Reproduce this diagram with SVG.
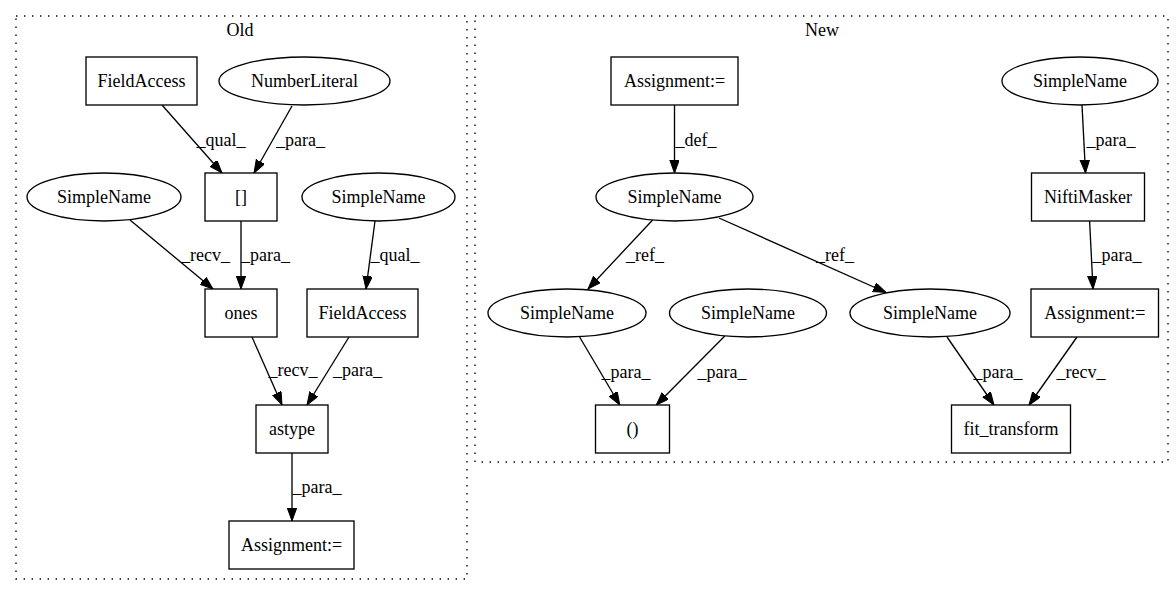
<svg xmlns="http://www.w3.org/2000/svg" width="1176" height="596" viewBox="0 0 1176 596">
<style>
text{font-family:"Liberation Serif","Times New Roman",serif;font-size:18px;fill:#000;text-anchor:middle}
.n rect,.n ellipse{fill:#fff;stroke:#000;stroke-width:1.33}
.cl{fill:none;stroke:#000;stroke-width:1.33;stroke-dasharray:1.4,6.6}
.e line{stroke:#000;stroke-width:1.33;marker-end:url(#ah)}
</style>
<defs>
<marker id="ah" markerUnits="userSpaceOnUse" markerWidth="14" markerHeight="11" refX="13" refY="4.7" orient="auto">
<path d="M0,0 L13,4.7 L0,9.4 z" fill="#000" stroke="#000" stroke-width="1"/>
</marker>
</defs>
<rect width="1176" height="596" fill="#fff"/>
<g id="cluster_old">
<rect class="cl" x="16" y="16" width="451" height="563"/>
<text x="240" y="36">Old</text>
</g>
<g id="cluster_new">
<rect class="cl" x="475" y="16" width="693" height="446"/>
<text x="822" y="36">New</text>
</g>
<g id="edges" class="e">
<line x1="162" y1="105" x2="222" y2="173"/>
<line x1="292" y1="106" x2="254" y2="173"/>
<line x1="130" y1="220" x2="213" y2="289"/>
<line x1="241" y1="221" x2="241" y2="289"/>
<line x1="375" y1="221" x2="366" y2="289"/>
<line x1="252" y1="337" x2="282" y2="405"/>
<line x1="349" y1="337" x2="307" y2="405"/>
<line x1="292" y1="453" x2="292" y2="521"/>
<line x1="674.5" y1="105" x2="674.5" y2="173"/>
<line x1="1082" y1="105" x2="1085.5" y2="173"/>
<line x1="652.6" y1="220" x2="588" y2="289"/>
<line x1="719" y1="218" x2="886" y2="292.5"/>
<line x1="1089.6" y1="221" x2="1093" y2="289"/>
<line x1="579.6" y1="337" x2="619.8" y2="405"/>
<line x1="724.8" y1="336" x2="656.3" y2="405"/>
<line x1="947" y1="337" x2="994" y2="405"/>
<line x1="1077" y1="337" x2="1029" y2="405"/>
<text x="221" y="146">_qual_</text>
<text x="300.5" y="146">_para_</text>
<text x="205.5" y="261">_recv_</text>
<text x="265.5" y="261">_para_</text>
<text x="395" y="261">_qual_</text>
<text x="293" y="376">_recv_</text>
<text x="357.5" y="376">_para_</text>
<text x="317" y="493">_para_</text>
<text x="696" y="146">_def_</text>
<text x="1111" y="146">_para_</text>
<text x="645" y="261">_ref_</text>
<text x="835" y="261">_ref_</text>
<text x="1117" y="261">_para_</text>
<text x="626" y="378">_para_</text>
<text x="722" y="378">_para_</text>
<text x="998" y="378">_para_</text>
<text x="1081" y="378">_recv_</text>
</g>
<g id="old_fieldaccess1" class="n"><rect x="86" y="57" width="111" height="48"/><text x="141.5" y="87">FieldAccess</text></g>
<g id="old_numberliteral" class="n"><ellipse cx="304.5" cy="81" rx="85.5" ry="24"/><text x="304.5" y="87">NumberLiteral</text></g>
<g id="old_index" class="n"><rect x="205" y="173" width="72" height="48"/><text x="241" y="203">[]</text></g>
<g id="old_simplename1" class="n"><ellipse cx="104" cy="197" rx="77" ry="24"/><text x="104" y="203">SimpleName</text></g>
<g id="old_simplename2" class="n"><ellipse cx="378.5" cy="197" rx="76.5" ry="24"/><text x="378.5" y="203">SimpleName</text></g>
<g id="old_ones" class="n"><rect x="205" y="289" width="72" height="48"/><text x="241" y="319">ones</text></g>
<g id="old_fieldaccess2" class="n"><rect x="307" y="289" width="111" height="48"/><text x="362.5" y="319">FieldAccess</text></g>
<g id="old_astype" class="n"><rect x="256" y="405" width="72" height="48"/><text x="292" y="435">astype</text></g>
<g id="old_assignment" class="n"><rect x="229" y="521" width="125" height="48"/><text x="291.5" y="551">Assignment:=</text></g>
<g id="new_assignment1" class="n"><rect x="611" y="57" width="127" height="48"/><text x="674.5" y="87">Assignment:=</text></g>
<g id="new_simplename_top" class="n"><ellipse cx="1080" cy="81" rx="78" ry="24"/><text x="1080" y="87">SimpleName</text></g>
<g id="new_simplename_mid" class="n"><ellipse cx="674.5" cy="197" rx="78.5" ry="24"/><text x="674.5" y="203">SimpleName</text></g>
<g id="new_niftimasker" class="n"><rect x="1031.5" y="173" width="113" height="48"/><text x="1088" y="203">NiftiMasker</text></g>
<g id="new_simplename_a" class="n"><ellipse cx="567" cy="313" rx="79" ry="24"/><text x="567" y="319">SimpleName</text></g>
<g id="new_simplename_b" class="n"><ellipse cx="748" cy="313" rx="78.5" ry="24"/><text x="748" y="319">SimpleName</text></g>
<g id="new_simplename_c" class="n"><ellipse cx="930" cy="313" rx="80" ry="24"/><text x="930" y="319">SimpleName</text></g>
<g id="new_assignment2" class="n"><rect x="1031" y="289" width="127.5" height="48"/><text x="1094.75" y="319">Assignment:=</text></g>
<g id="new_paren" class="n"><rect x="595.5" y="405" width="74" height="48"/><text x="632.5" y="435">()</text></g>
<g id="new_fit_transform" class="n"><rect x="951.5" y="405" width="119" height="48"/><text x="1011" y="435">fit_transform</text></g>
</svg>
